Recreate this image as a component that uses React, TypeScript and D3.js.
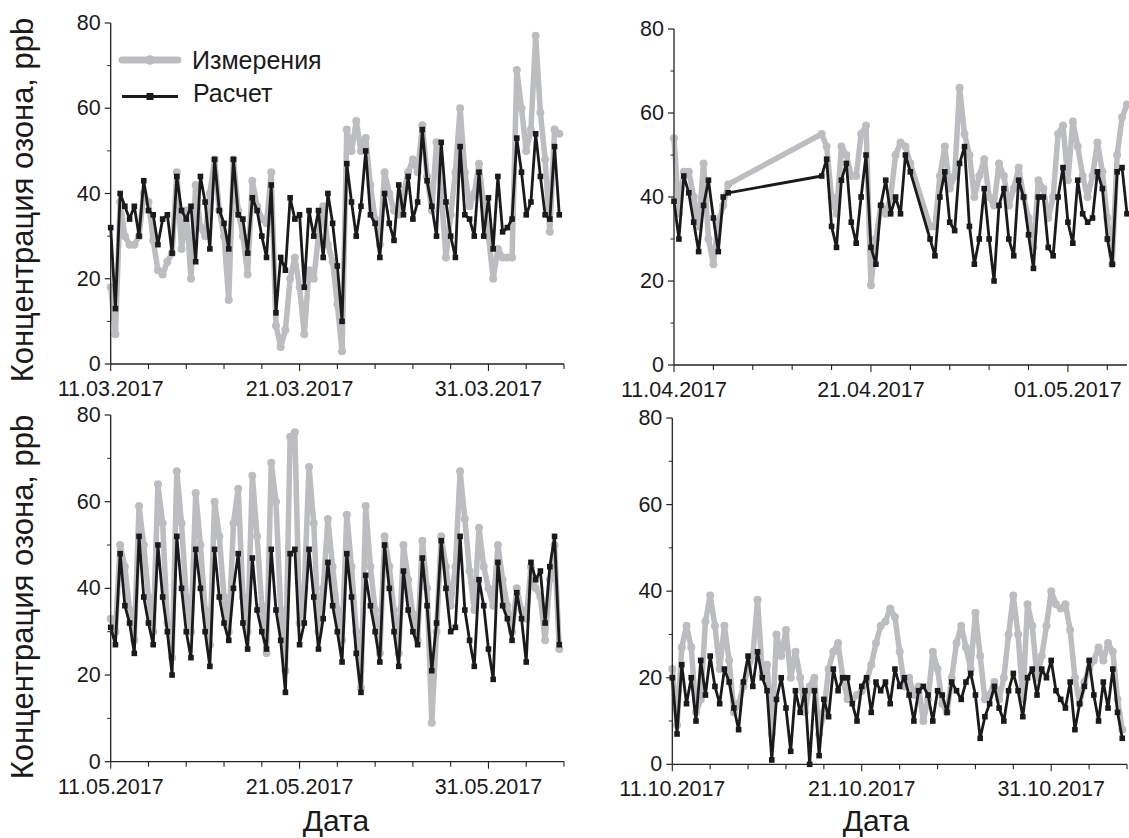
import React from 'react';
import * as d3 from 'd3';

const W = 1129;
const H = 838;

// ---- data: ozone concentration, ppb, 6-hour steps ----
const marchMeas = [
  18, 7, 38, 30, 28, 28, 30, 40, 38, 29, 22, 21,
  24, 26, 45, 27, 36, 20, 42, 32, 30, 40, 48, 36,
  30, 15, 48, 36, 30, 21, 43, 37, 34, 33, 45, 9,
  4, 8, 20, 25, 18, 7, 22, 20, 30, 37, 28, 24,
  14, 3, 55, 50, 57, 50, 53, 42, 34, 28, 45, 40,
  36, 35, 40, 45, 48, 45, 56, 44, 36, 52, 40, 25,
  35, 45, 60, 45, 37, 40, 47, 37, 30, 20, 27, 25,
  25, 25, 69, 60, 50, 55, 77, 59, 48, 31, 55, 54,
];
const marchCalc = [
  32, 13, 40, 37, 34, 37, 30, 43, 36, 35, 28, 34,
  35, 26, 44, 36, 34, 37, 24, 44, 38, 27, 48, 36,
  33, 27, 48, 35, 34, 26, 39, 36, 30, 25, 42, 12,
  25, 22, 39, 34, 35, 18, 36, 30, 36, 25, 40, 33,
  23, 10, 47, 38, 30, 37, 50, 35, 33, 25, 40, 33,
  29, 42, 35, 44, 34, 38, 55, 43, 37, 30, 52, 38,
  30, 25, 51, 35, 34, 30, 45, 30, 39, 27, 44, 31,
  32, 34, 53, 45, 35, 38, 54, 44, 35, 34, 51, 35,
];
const aprilMeas = [
  54, 36, 46, 46, 40, 33, 48, 30, 24, 34, 38, 43,
  null, null, null, null, null, null, null, null, null, null, null, null,
  null, null, null, null, null, null,
  55, 52, 40, 36, 52, 50, 45, 45, 55, 57, 19, 30,
  38, 36, 40, 50, 53, 52, 48,
  null, null, null,
  33, 33, 45, 52, 42, 45, 66, 55, 50, 40, 45, 49,
  40, 38, 48, 45, 38, 42, 47, 40, 35, 28, 44, 42,
  35, 40, 55, 57, 44, 58, 52, 45, 40, 45, 53, 46,
  35, 24, 50, 59, 62,
];
const aprilCalc = [
  39, 30, 45, 41, 34, 27, 38, 44, 35, 27, 40, 41,
  null, null, null, null, null, null, null, null, null, null, null, null,
  null, null, null, null, null, null,
  45, 49, 33, 28, 44, 48, 34, 29, 40, 50, 28, 24,
  38, 44, 36, 40, 36, 50, 46,
  null, null, null,
  30, 26, 40, 46, 34, 32, 48, 52, 33, 24, 30, 42,
  30, 20, 38, 42, 30, 26, 44, 40, 31, 23, 40, 40,
  28, 26, 40, 47, 34, 29, 44, 36, 34, 35, 46, 42,
  30, 24, 46, 47, 36,
];
const mayMeas = [
  33, 30, 50, 45, 35, 28, 59, 50, 38, 30, 64, 55,
  32, 24, 67, 55, 38, 30, 62, 50, 35, 27, 60, 52,
  38, 30, 55, 63, 38, 30, 66, 52, 36, 25, 69, 60,
  35, 21, 75, 76, 32, 40, 68, 55, 30, 40, 56, 45,
  35, 28, 57, 45, 30, 17, 59, 45, 35, 25, 52, 45,
  35, 25, 50, 42, 34, 28, 51, 40, 9, 30, 52, 45,
  36, 45, 67, 56, 44, 35, 54, 45, 40, 36, 50, 42,
  36, 30, 40, 35, 33, 45, 40, 38, 28, 42, 50, 26,
];
const mayCalc = [
  31, 27, 48, 36, 32, 25, 52, 38, 32, 27, 50, 38,
  30, 20, 52, 40, 30, 24, 49, 40, 30, 22, 49, 38,
  32, 28, 40, 48, 32, 26, 47, 35, 30, 26, 49, 35,
  28, 16, 48, 49, 27, 32, 49, 38, 26, 33, 46, 36,
  30, 23, 48, 38, 25, 16, 43, 36, 30, 23, 50, 40,
  30, 22, 44, 35, 30, 27, 47, 36, 21, 32, 51, 40,
  30, 31, 52, 35, 28, 22, 42, 36, 26, 19, 46, 36,
  33, 28, 39, 33, 23, 46, 42, 44, 32, 45, 52, 27,
];
const octMeas = [
  22, 9, 27, 32, 27, 12, 15, 33, 39, 32, 22, 32,
  24, 12, 14, 18, 22, 25, 38, 21, 23, 7, 30, 25,
  31, 20, 26, 20, 12, 18, 20, 7, 12, 22, 26, 28,
  20, 15, 15, 16, 17, 19, 23, 28, 32, 33, 36, 34,
  26, 18, 20, 16, 18, 10, 15, 26, 22, 14, 12, 20,
  28, 32, 27, 22, 35, 25, 15, 16, 19, 15, 20, 30,
  39, 30, 15, 37, 32, 20, 25, 32, 40, 37, 36, 37,
  31, 20, 14, 19, 22, 24, 27, 24, 28, 26, 15, 8,
];
const octCalc = [
  20, 7, 23, 14, 20, 10, 24, 16, 25, 18, 14, 22,
  19, 13, 8, 19, 25, 18, 26, 20, 17, 1, 15, 20,
  13, 3, 17, 12, 17, 0, 17, 2, 15, 11, 22, 17,
  20, 20, 14, 10, 18, 20, 12, 19, 17, 19, 14, 22,
  18, 20, 16, 10, 17, 18, 16, 10, 17, 16, 12, 19,
  17, 15, 19, 21, 16, 6, 11, 14, 18, 13, 10, 17,
  21, 17, 11, 20, 22, 16, 22, 20, 24, 17, 15, 13,
  19, 8, 14, 18, 24, 16, 10, 19, 13, 22, 12, 6,
];

const yTicks = [0, 20, 40, 60, 80];
const yMinorTicks = [10, 30, 50, 70];
const legendLabels = ['Измерения', 'Расчет'];
const yTitle = 'Концентрация озона, ppb';
const xTitle = 'Дата';

const STEP_HOURS = 6;
const FONT = 'Liberation Sans, Arial, Helvetica, sans-serif';
const GRAY = '#bcbdc0';
const BLACK = '#1a1a1a';
const AXIS = '#222';

type Pt = { t: Date; v: number };

const panels = [
  { key: 'mar', start: Date.UTC(2017, 2, 11), days: 24, meas: marchMeas, calc: marchCalc,
    x0: 110.7, x1: 564, yTop: 23, yBot: 364 },
  { key: 'apr', start: Date.UTC(2017, 3, 11), days: 23, meas: aprilMeas, calc: aprilCalc,
    x0: 674, x1: 1127, yTop: 29, yBot: 365 },
  { key: 'may', start: Date.UTC(2017, 4, 11), days: 24, meas: mayMeas, calc: mayCalc,
    x0: 110.7, x1: 564, yTop: 415, yBot: 761.7 },
  { key: 'oct', start: Date.UTC(2017, 9, 11), days: 24, meas: octMeas, calc: octCalc,
    x0: 672.3, x1: 1127, yTop: 418, yBot: 764.3 },
];

const fmt = d3.utcFormat('%d.%m.%Y');

function Panel({ p }: { p: typeof panels[number] }) {
  const start = new Date(p.start);
  const x = d3.scaleUtc().domain([start, d3.utcDay.offset(start, p.days)]).range([p.x0, p.x1]);
  const y = d3.scaleLinear().domain([0, 80]).range([p.yBot, p.yTop]);
  const toPts = (arr: (number | null)[]): Pt[] =>
    arr
      .map((v, i) => (v == null ? null : { t: d3.utcHour.offset(start, i * STEP_HOURS), v }))
      .filter((d): d is Pt => d !== null);
  const meas = toPts(p.meas);
  const calc = toPts(p.calc);
  const line = d3.line<Pt>().x((d) => x(d.t)).y((d) => y(d.v));
  const xTicks = d3.range(0, p.days + 1, 2).map((k) => ({ k, d: d3.utcDay.offset(start, k) }));

  return (
    <g>
      <path d={line(meas) || ''} fill="none" stroke={GRAY} strokeWidth={5.5} strokeLinejoin="round" />
      {meas.map((d, i) => (
        <circle key={'m' + i} cx={x(d.t)} cy={y(d.v)} r={4} fill={GRAY} />
      ))}
      <path d={line(calc) || ''} fill="none" stroke={BLACK} strokeWidth={2.8} strokeLinejoin="round" />
      {calc.map((d, i) => (
        <rect key={'c' + i} x={x(d.t) - 2.8} y={y(d.v) - 2.8} width={5.6} height={5.6} fill={BLACK} />
      ))}
      {/* axes */}
      <line x1={p.x0} x2={p.x0} y1={p.yTop} y2={p.yBot} stroke={AXIS} strokeWidth={1.3} />
      <line x1={p.x0} x2={p.x1} y1={p.yBot} y2={p.yBot} stroke={AXIS} strokeWidth={1.3} />
      {yTicks.map((t) => (
        <g key={'yt' + t}>
          <line x1={p.x0 - 6} x2={p.x0} y1={y(t)} y2={y(t)} stroke={AXIS} strokeWidth={1.2} />
          <text x={p.x0 - 10} y={y(t)} dy="0.33em" textAnchor="end" fontSize={21.5} fill="#1a1a1a" fontFamily={FONT}>
            {t}
          </text>
        </g>
      ))}
      {yMinorTicks.map((t) => (
        <line key={'ym' + t} x1={p.x0 - 3.5} x2={p.x0} y1={y(t)} y2={y(t)} stroke={AXIS} strokeWidth={1} />
      ))}
      {xTicks.map(({ k, d }) => {
        const major = k % 10 === 0;
        return (
          <g key={'xt' + k}>
            <line x1={x(d)} x2={x(d)} y1={p.yBot} y2={p.yBot + (major ? 7 : 5)} stroke={AXIS} strokeWidth={1.1} />
            {major && (
              <text x={x(d)} y={p.yBot + 32} textAnchor="middle" fontSize={21.5} fill="#1a1a1a" fontFamily={FONT}>
                {fmt(d)}
              </text>
            )}
          </g>
        );
      })}
    </g>
  );
}

function Legend() {
  const lx0 = 122;
  const lx1 = 178;
  const cx = (lx0 + lx1) / 2;
  return (
    <g fontFamily={FONT}>
      <line x1={lx0} x2={lx1} y1={60} y2={60} stroke={GRAY} strokeWidth={7} strokeLinecap="round" />
      <circle cx={cx} cy={60} r={4.8} fill={GRAY} />
      <text x={192} y={68.5} fontSize={25} fill="#1a1a1a">{legendLabels[0]}</text>
      <line x1={lx0} x2={lx1} y1={96.5} y2={96.5} stroke={BLACK} strokeWidth={3.2} />
      <rect x={cx - 3.5} y={93} width={7} height={7} fill={BLACK} />
      <text x={193} y={102} fontSize={25} fill="#1a1a1a">{legendLabels[1]}</text>
    </g>
  );
}

export default function App() {
  return (
    <svg
      width={W}
      height={H}
      viewBox={`0 0 ${W} ${H}`}
      style={{ position: 'absolute', left: 0, top: 0, background: '#fff' }}
    >
      <rect x={0} y={0} width={W} height={H} fill="#fff" />
      {panels.map((p) => (
        <Panel key={p.key} p={p} />
      ))}
      <Legend />
      <text transform="translate(33,200) rotate(-90)" textAnchor="middle" fontSize={31} fill="#1a1a1a" fontFamily={FONT}>
        {yTitle}
      </text>
      <text transform="translate(33,597) rotate(-90)" textAnchor="middle" fontSize={31} fill="#1a1a1a" fontFamily={FONT}>
        {yTitle}
      </text>
      <text x={336} y={831} textAnchor="middle" fontSize={30} fill="#1a1a1a" fontFamily={FONT}>
        {xTitle}
      </text>
      <text x={876} y={831} textAnchor="middle" fontSize={30} fill="#1a1a1a" fontFamily={FONT}>
        {xTitle}
      </text>
    </svg>
  );
}
